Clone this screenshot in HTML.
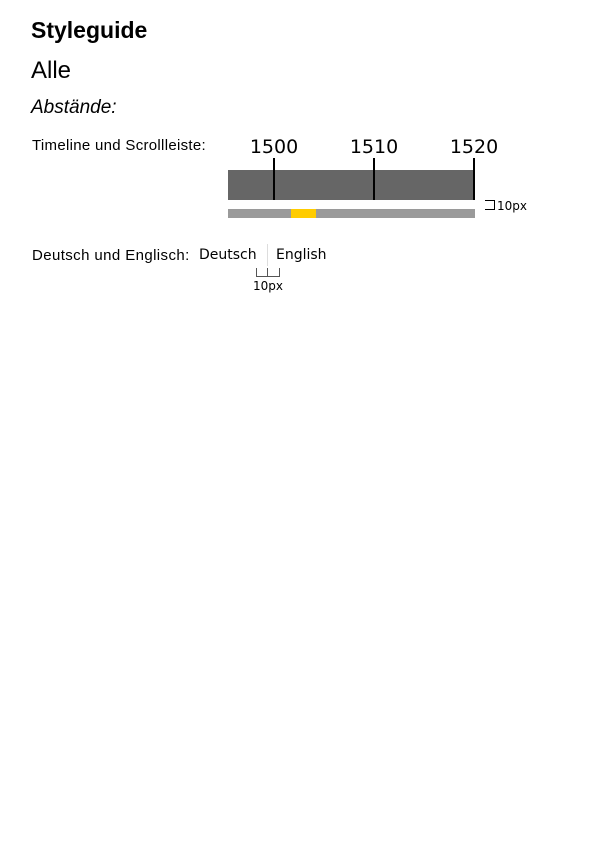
<!DOCTYPE html>
<html><head><meta charset="utf-8"><style>
body{margin:0;width:595px;height:842px;background:#fff;font-family:"Liberation Sans","DejaVu Sans",sans-serif;color:#000;position:relative;overflow:hidden}
.a{position:absolute;white-space:nowrap}
</style></head><body>
<div class="a" style="left:31px;top:17px;font-size:23px;font-weight:bold">Styleguide</div>
<div class="a" style="left:31px;top:57px;font-size:24px">Alle</div>
<div class="a" style="left:31px;top:97px;font-size:19px;font-style:italic">Abstände:</div>
<div class="a" style="left:32px;top:137px;font-size:15px;letter-spacing:0.3px">Timeline und Scrollleiste:</div>
<svg class="a" style="left:0;top:0" width="595" height="320">
<rect x="228" y="170" width="247" height="30" fill="#666"/>
<g font-family="DejaVu Sans, Liberation Sans, sans-serif" font-size="19" text-anchor="middle">
<text x="274" y="153">1500</text>
<text x="374" y="153">1510</text>
<text x="474" y="153">1520</text>
</g>
<g stroke="#000" stroke-width="2">
<line x1="274" y1="158" x2="274" y2="200"/>
<line x1="374" y1="158" x2="374" y2="200"/>
<line x1="474" y1="158" x2="474" y2="200"/>
</g>
<rect x="228" y="209" width="247" height="9" fill="#9a9a9a"/>
<rect x="291" y="209" width="25" height="9" fill="#ffcc00"/>
<path d="M485 200.5H494.5V209.5H485" fill="none" stroke="#000" stroke-width="1"/>
<text x="497" y="210" font-size="12" font-family="DejaVu Sans, sans-serif">10px</text>
<line x1="267.5" y1="244" x2="267.5" y2="266" stroke="#ddd" stroke-width="1"/>
<path d="M256.5 268V276.5H267.5V268M267.5 276.5H279.5V268" fill="none" stroke="#555" stroke-width="1"/>
<text x="268" y="290" text-anchor="middle" font-size="12" font-family="DejaVu Sans, sans-serif">10px</text>
</svg>
<div class="a" style="left:32px;top:247px;font-size:15px;letter-spacing:0.4px">Deutsch und Englisch:</div>
<div class="a" style="left:199px;top:247px;font-family:'DejaVu Sans',sans-serif;font-size:14px">Deutsch</div>
<div class="a" style="left:276px;top:247px;font-size:14px;font-family:'DejaVu Sans',sans-serif">English</div>
</body></html>
